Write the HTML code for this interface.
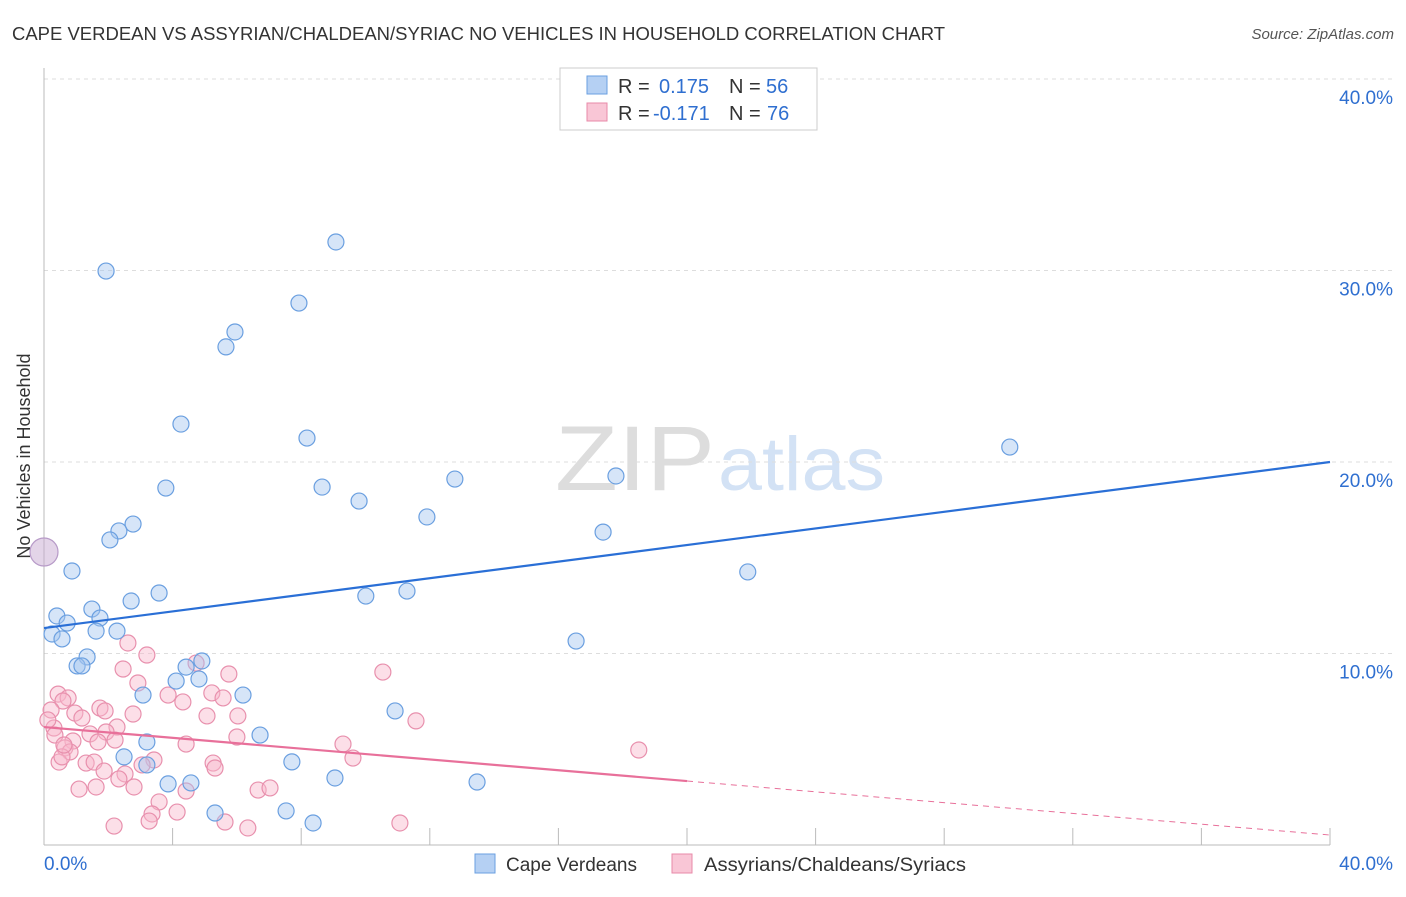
<!DOCTYPE html>
<html><head><meta charset="utf-8"><style>
body{margin:0;background:#fff;font-family:"Liberation Sans",sans-serif;}
svg text{font-family:"Liberation Sans",sans-serif;}
</style></head><body>
<svg id="chart" width="1406" height="892">
<text x="12" y="40" font-size="18" fill="#333" textLength="933" lengthAdjust="spacingAndGlyphs">CAPE VERDEAN VS ASSYRIAN/CHALDEAN/SYRIAC NO VEHICLES IN HOUSEHOLD CORRELATION CHART</text>
<text x="1394" y="39" font-size="15" fill="#555" font-style="italic" text-anchor="end">Source: ZipAtlas.com</text>
<text x="30" y="456" font-size="18" fill="#333" text-anchor="middle" transform="rotate(-90 30 456)">No Vehicles in Household</text>
<g><text x="555" y="490" font-size="92" fill="#ddd" font-family="Liberation Serif" textLength="160" lengthAdjust="spacingAndGlyphs">ZIP</text><text x="718" y="490" font-size="76" fill="#d3e2f5" textLength="167" lengthAdjust="spacingAndGlyphs">atlas</text></g>
<g id="grid"></g><g id="marks"></g>
<g>
<rect x="560" y="68" width="257" height="62" fill="#fff" stroke="#ccc"/>
<rect x="587" y="76" width="20" height="18" fill="#b5d0f3" stroke="#6a9fe0"/>
<rect x="587" y="103" width="20" height="18" fill="#f9c6d6" stroke="#e88aa8"/>
<text y="93" font-size="20" fill="#333"><tspan x="618">R =</tspan><tspan x="659" fill="#2f6fd0">0.175</tspan><tspan x="729">N =</tspan><tspan x="766" fill="#2f6fd0">56</tspan></text>
<text y="120" font-size="20" fill="#333"><tspan x="618">R =</tspan><tspan x="653" fill="#2f6fd0">-0.171</tspan><tspan x="729">N =</tspan><tspan x="767" fill="#2f6fd0">76</tspan></text>
</g>
<g>
<rect x="475" y="854" width="20" height="19" fill="#b5d0f3" stroke="#6a9fe0"/>
<text x="506" y="871" font-size="19" fill="#333">Cape Verdeans</text>
<rect x="672" y="854" width="20" height="19" fill="#f9c6d6" stroke="#e88aa8"/>
<text x="704" y="871" font-size="19" fill="#333" textLength="262" lengthAdjust="spacingAndGlyphs">Assyrians/Chaldeans/Syriacs</text>
</g>
</svg>
<script>
const yTicks=[10,20,30,40];
const xTickLabels=["0.0%","40.0%"];
const blueX=[1.93,9.08,7.93,5.94,5.66,4.26,8.18,30.04,12.78,17.79,3.79,8.65,9.80,11.91,2.77,2.33,2.05,17.39,0,0.87,21.89,3.58,10.01,11.29,2.71,1.49,0.40,1.74,0.72,1.62,2.27,0.25,0.56,16.55,1.34,1.03,1.18,4.91,4.42,4.11,4.82,3.08,6.19,10.92,6.72,3.20,2.49,7.71,3.20,9.05,13.47,3.86,4.57,5.32,7.53,8.37];
const blueY=[29.97,31.49,28.30,26.79,26.01,21.98,21.25,20.78,19.11,19.27,18.64,18.69,17.96,17.13,16.76,16.40,15.93,16.34,15.30,14.31,14.26,13.16,13.00,13.26,12.74,12.32,11.96,11.85,11.59,11.17,11.17,11.02,10.76,10.65,9.82,9.35,9.35,9.61,9.29,8.56,8.67,7.83,7.83,7.00,5.74,5.38,4.60,4.34,4.18,3.50,3.29,3.19,3.24,1.67,1.78,1.15];
const pinkX=[2.61,3.20,2.46,5.75,10.54,4.73,2.92,0.44,0.75,3.86,5.22,5.57,4.32,1.74,1.90,0.59,0.22,0.96,2.77,1.18,5.07,6.03,2.27,1.93,0.31,1.43,6.00,11.57,0.90,1.68,2.21,0.65,0.81,4.42,9.30,18.50,9.61,0.47,0.56,1.31,1.56,5.26,3.42,5.32,1.87,2.52,3.05,2.33,1.09,1.62,2.80,4.42,6.66,7.03,3.58,3.36,4.14,3.27,2.18,5.63,6.34,11.07,0.12,0.34,0.62];
const pinkY=[10.55,9.92,9.19,8.93,9.03,9.50,8.46,7.88,7.68,7.83,7.94,7.68,7.47,7.15,7.00,7.52,7.05,6.89,6.84,6.63,6.74,6.74,6.16,5.90,6.11,5.80,5.64,6.48,5.43,5.38,5.48,5.07,4.86,5.27,5.27,4.96,4.54,4.33,4.60,4.28,4.33,4.28,4.44,4.02,3.86,3.71,4.18,3.45,2.92,3.03,3.03,2.82,2.87,2.98,2.25,1.62,1.72,1.25,0.99,1.20,0.89,1.15,6.53,5.74,5.22];
const blueTrend=[11.33,20.0];
const pinkTrend=[6.16,0.52];
const pinkSolidEnd=20;
const X=v=>44+v/40*1286, Y=v=>845-v*19.15;
const NS="http://www.w3.org/2000/svg";
function mk(tag,attrs,parent){const e=document.createElementNS(NS,tag);for(const k in attrs)e.setAttribute(k,attrs[k]);parent.appendChild(e);return e;}
const grid=document.getElementById('grid'),marks=document.getElementById('marks');
yTicks.forEach(t=>{
 const l=mk('line',{x1:44,x2:1394,y1:Y(t),y2:Y(t),stroke:'#ddd','stroke-dasharray':'4,4'},grid);
 
 
 const tx=mk('text',{x:1393,y:Y(t)+25,'font-size':19,fill:'#2f6fd0','text-anchor':'end'},grid);tx.textContent=t.toFixed(1)+'%';
 
 
});
for(let i=1;i<=10;i++){const l=mk('line',{x1:X(i*4),x2:X(i*4),y1:828,y2:845,stroke:'#bbb'},grid);
 
 }
const ax=mk('line',{x1:44,x2:1330,y1:845,y2:845,stroke:'#bbb'},grid);


const ay=mk('line',{x1:44,x2:44,y1:68,y2:845,stroke:'#bbb'},grid);


const xl0=mk('text',{x:44,y:870,'font-size':19,fill:'#2f6fd0'},grid);xl0.textContent=xTickLabels[0];


const xl1=mk('text',{x:1393,y:870,'font-size':19,fill:'#2f6fd0','text-anchor':'end'},grid);xl1.textContent=xTickLabels[1];


pinkX.forEach((v,i)=>{const c=mk('circle',{cx:X(v),cy:Y(pinkY[i]),r:8,fill:'rgba(248,185,205,0.45)',stroke:'#e890ad','stroke-width':1.2},marks);
 
 });
blueX.forEach((v,i)=>{const c=mk('circle',{cx:X(v),cy:Y(blueY[i]),r:i==18?14:8,fill:i==18?'rgba(200,170,210,0.5)':'rgba(165,198,240,0.45)',stroke:i==18?'#b79ac8':'#6a9fe0','stroke-width':1.2},marks);
 
 });
const bt=mk('line',{x1:X(0),y1:Y(blueTrend[0]),x2:X(40),y2:Y(blueTrend[1]),stroke:'#2a6fd6','stroke-width':2.2},marks);


const pAt=x=>pinkTrend[0]+(pinkTrend[1]-pinkTrend[0])*x/40;
const pt=mk('line',{x1:X(0),y1:Y(pinkTrend[0]),x2:X(pinkSolidEnd),y2:Y(pAt(pinkSolidEnd)),stroke:'#e8709a','stroke-width':2.2},marks);


const pd=mk('line',{x1:X(pinkSolidEnd),y1:Y(pAt(pinkSolidEnd)),x2:X(40),y2:Y(pinkTrend[1]),stroke:'#e8709a','stroke-width':1,'stroke-dasharray':'6,5'},marks);


</script>
</body></html>
